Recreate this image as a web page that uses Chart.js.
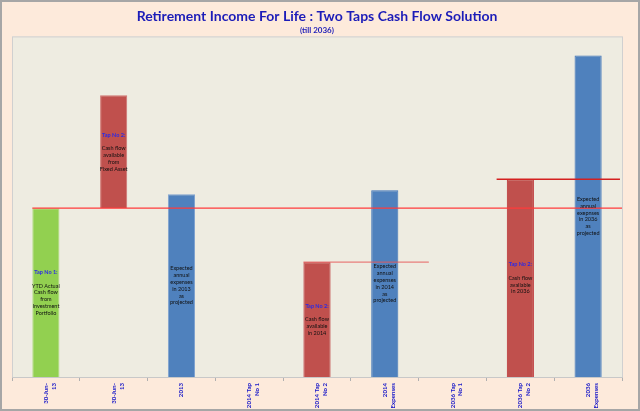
<!DOCTYPE html>
<html>
<head>
<meta charset="utf-8">
<script src="https://cdn.jsdelivr.net/npm/chart.js@4.4.0/dist/chart.umd.min.js"></script>
<style>
  html, body { margin: 0; padding: 0; background: #fdeadb; }
  #wrap { width: 640px; height: 411px; position: relative; }
</style>
</head>
<body>
<div id="wrap"><canvas id="grafico" width="640" height="411"></canvas></div>
<script>
// categorias do eixo x
const categorias = [
    ['30-Jun-', '13'], ['30-Jun-', '13'], '2013', ['2014 Tap', 'No 1'], ['2014 Tap', 'No 2'],
    ['2014', 'Expenses'], ['2036 Tap', 'No 1'], ['2036 Tap', 'No 2'], ['2036', 'Expenses']
];

// valores (a barra 2 flutua entre dois valores)
const valores = [169, [169, 282], 183, 0, 115, 187, 0, 198, 322];

const coresBarras = ['#92d050', '#c0504d', '#4f81bd', '#c0504d', '#c0504d', '#4f81bd', '#4f81bd', '#c0504d', '#4f81bd'];
const coresBordas = ['#a9da76', '#cf7370', '#7fa2cf', '#c0504d', '#b8262a', '#3d72b8', '#4f81bd', '#b8262a', '#3d72b8'];

// textos dentro das barras
const titulosNotas = ['Tap No 1:', 'Tap No 2:', '', '', 'Tap No 2:', '', '', 'Tap No 2:', ''];
const corpoNotas = [
    ['YTD Actual', 'Cash flow', 'from', 'Investment', 'Portfolio'],
    ['Cash flow', 'available', 'from', 'Fixed Asset'],
    ['Expected', 'annual', 'expenses', 'in 2013', 'as', 'projected'],
    [],
    ['Cash flow', 'available', 'in 2014'],
    ['Expected', 'annual', 'expenses', 'in 2014', 'as', 'projected'],
    [],
    ['Cash flow', 'available', 'in 2036'],
    ['Expected', 'annual', 'exepnses', 'in 2036', 'as', 'projected']
];

// linhas de referencia (nivel, inicio e fim em unidades de categoria)
const nivelLinhas = [169, 115, 198];
const inicioLinhas = [-0.2, 3.8, 6.65];
const fimLinhas = [8.5, 5.65, 8.47];
const corLinhas = ['#ff3b3b', 'rgba(230,90,90,0.75)', '#d42020'];

const fundo = {
    id: 'fundo',
    beforeDraw(chart) {
        const { ctx, chartArea: a } = chart;
        ctx.save();
        ctx.fillStyle = '#fdeadb';
        ctx.fillRect(0, 0, chart.width, chart.height);
        ctx.strokeStyle = '#a6a6a6';
        ctx.lineWidth = 2;
        ctx.strokeRect(1, 1, chart.width - 2, chart.height - 2);
        ctx.fillStyle = '#eeece1';
        ctx.fillRect(a.left, a.top, a.right - a.left, a.bottom - a.top);
        ctx.strokeStyle = '#d0d0d0';
        ctx.lineWidth = 1;
        ctx.strokeRect(a.left + 0.5, a.top + 0.5, a.right - a.left, a.bottom - a.top);
        ctx.restore();
    }
};

const linhasENotas = {
    id: 'linhasENotas',
    afterDatasetsDraw(chart) {
        const { ctx } = chart;
        const x = chart.scales.x;
        const y = chart.scales.y;
        ctx.save();
        nivelLinhas.forEach((nivel, i) => {
            const py = y.getPixelForValue(nivel);
            ctx.strokeStyle = corLinhas[i];
            ctx.lineWidth = 1.3;
            ctx.beginPath();
            ctx.moveTo(x.getPixelForValue(inicioLinhas[i]), py);
            ctx.lineTo(x.getPixelForValue(fimLinhas[i]), py);
            ctx.stroke();
        });

        const meta = chart.getDatasetMeta(0);
        const alturaLinha = 6.8;
        ctx.textAlign = 'center';
        ctx.textBaseline = 'middle';
        meta.data.forEach((barra, i) => {
            const linhas = [];
            if (titulosNotas[i]) linhas.push(titulosNotas[i], '');
            linhas.push(...corpoNotas[i]);
            if (!linhas.length) return;
            const meio = (barra.y + barra.base) / 2;
            let py = meio - (linhas.length - 1) * alturaLinha / 2;
            linhas.forEach((t, k) => {
                const titulo = titulosNotas[i] && k === 0;
                ctx.font = (titulo ? 'bold ' : '') + '5.5px Lato';
                ctx.fillStyle = titulo ? '#2a2ae6' : '#111111';
                ctx.fillText(t, barra.x, py);
                py += alturaLinha;
            });
        });
        ctx.restore();
    }
};

const ctx = document.getElementById('grafico').getContext('2d');
window.grafico = new Chart(ctx, {
    type: 'bar',
    data: {
        labels: categorias,
        datasets: [{
            data: valores,
            backgroundColor: coresBarras,
            borderColor: coresBordas,
            borderWidth: 1,
            borderSkipped: 'bottom',
            categoryPercentage: 1,
            barPercentage: 0.4
        }]
    },
    options: {
        responsive: false,
        animation: false,
        layout: { padding: { left: 12, right: 18, top: 0, bottom: 0 } },
        plugins: {
            legend: { display: false },
            tooltip: { enabled: false },
            title: {
                display: true,
                text: 'Retirement Income For Life : Two Taps Cash Flow Solution',
                color: '#1c1cb8',
                font: { family: 'Lato', size: 14, weight: 'bold' },
                padding: { top: 8, bottom: 0 }
            },
            subtitle: {
                display: true,
                text: '(till 2036)',
                color: '#1c1cb8',
                font: { family: 'Lato', size: 8, weight: 'bold' },
                padding: { top: 1, bottom: 1 }
            }
        },
        scales: {
            x: {
                grid: { display: true, drawOnChartArea: false, drawTicks: true, tickLength: 4, color: '#b0b0b0' },
                border: { display: true, color: '#c8c8c8' },
                ticks: {
                    autoSkip: false,
                    minRotation: 90,
                    maxRotation: 90,
                    padding: 2,
                    color: '#1414c8',
                    font: { family: 'Lato', size: 6.1, weight: 'bold', lineHeight: 1.3 }
                },
                afterFit: (escala) => { escala.height = 34; }
            },
            y: {
                display: false,
                min: 0,
                max: 341
            }
        }
    },
    plugins: [fundo, linhasENotas]
});
</script>
</body>
</html>
